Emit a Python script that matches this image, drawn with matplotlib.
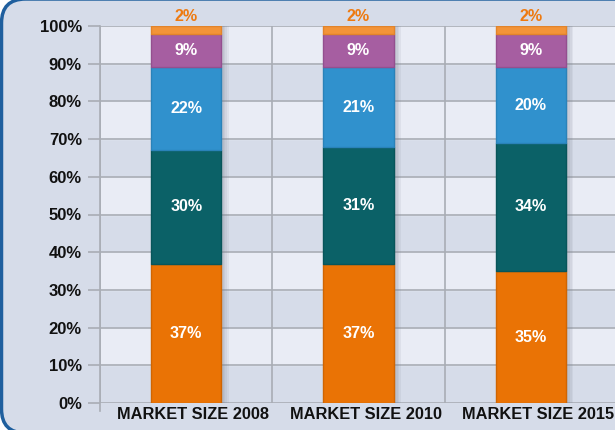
import matplotlib
matplotlib.use("Agg")
import matplotlib.pyplot as plt
from matplotlib.patches import FancyBboxPatch
from matplotlib.transforms import IdentityTransform, ScaledTranslation
import numpy as np

categories = ["MARKET SIZE 2008", "MARKET SIZE 2010", "MARKET SIZE 2015"]
seg1 = [37, 37, 35]   # orange
seg2 = [30, 31, 34]   # teal
seg3 = [22, 21, 20]   # blue
seg4 = [9, 9, 9]      # purple
seg5 = [2, 2, 2]      # light orange (top)
series = [seg1, seg2, seg3, seg4, seg5]
colors = ["#ea7305", "#0b6167", "#3091cd", "#a65ea1", "#f39438"]
edges = ["#d06502", "#08555a", "#2a82b9", "#944f8f", "#e2842a"]
yticks = [0, 10, 20, 30, 40, 50, 60, 70, 80, 90, 100]
ytick_labels = [f"{v}%" for v in yticks]

plt.rcParams['font.family'] = ['Liberation Sans', 'DejaVu Sans']
fs_y, fs_x, fs_bar = 12, 11.8, 11.6

W, H = 615, 430
fig = plt.figure(figsize=(W / 100, H / 100), dpi=100)
fig.patch.set_facecolor("white")

# rounded panel (pixel coordinates, origin bottom-left)
panel = FancyBboxPatch((1.5, -3), 700, H + 1 + 3,
                       boxstyle="round,pad=0,rounding_size=24",
                       transform=IdentityTransform(), facecolor="#d6dce9",
                       edgecolor="#1f5f9e", linewidth=2.5, zorder=-5)
fig.patches.append(panel)

left, right = 100 / W, 617 / W
bottom, top = (H - 403) / H, (H - 26) / H
ax = fig.add_axes([left, bottom, right - left, top - bottom])
ax.set_facecolor("#d6dce9")

n = len(categories)
x = np.arange(n)
ax.set_xlim(-0.5, n - 0.5)
ax.set_ylim(0, 100)

# alternating bands
for i in range(len(yticks) - 1):
    if i % 2 == 1:
        ax.axhspan(yticks[i], yticks[i + 1], color="#e9ecf5", zorder=0)

for v in yticks:
    ax.axhline(v, color="#a9adb5", lw=1.2, zorder=1)
for b in np.arange(n + 1) - 0.5:
    ax.axvline(b, color="#a9adb5", lw=1.2, zorder=1)

width = 0.41
# shadow
for dx in [0.012, 0.022, 0.032, 0.042]:
    ax.bar(x + dx, [100] * n, width=width, bottom=0, color="#7c8394",
           alpha=0.11, zorder=2, linewidth=0)

bottoms = np.zeros(n)
for s, (vals, c, ec) in enumerate(zip(series, colors, edges)):
    vals = np.array(vals, dtype=float)
    ax.bar(x, vals, width=width, bottom=bottoms, color=c, edgecolor=ec,
           linewidth=1.0, zorder=3)
    for i in range(n):
        if s == len(series) - 1:
            ax.text(x[i], bottoms[i] + vals[i] + 0.5, f"{int(vals[i])}%",
                    ha="center", va="bottom", color="#ee7a10",
                    fontsize=fs_bar, fontweight="bold", zorder=5)
        else:
            ax.text(x[i], bottoms[i] + vals[i] / 2, f"{int(vals[i])}%",
                    ha="center", va="center", color="white",
                    fontsize=fs_bar, fontweight="bold", zorder=5)
    bottoms += vals

ax.set_yticks(yticks)
ax.set_yticklabels(ytick_labels, fontsize=fs_y, fontweight="bold", color="#111111")
ax.set_xticks(x)
ax.set_xticklabels(categories, fontsize=fs_x, fontweight="bold", color="#111111")
ax.tick_params(axis="y", length=9, width=1.2, color="#a9adb5", pad=4)
ax.tick_params(axis="x", length=0, pad=3)
offset = ScaledTranslation(7 / 100, 0, fig.dpi_scale_trans)
for lab in ax.get_xticklabels():
    lab.set_transform(lab.get_transform() + offset)
for sp in ["top", "right", "bottom"]:
    ax.spines[sp].set_visible(False)
ax.spines["left"].set_color("#a9adb5")
ax.spines["left"].set_linewidth(1.2)
ax.spines["left"].set_bounds(-2.2, 100)

fig.savefig("out.png", dpi=100, facecolor=fig.get_facecolor())
